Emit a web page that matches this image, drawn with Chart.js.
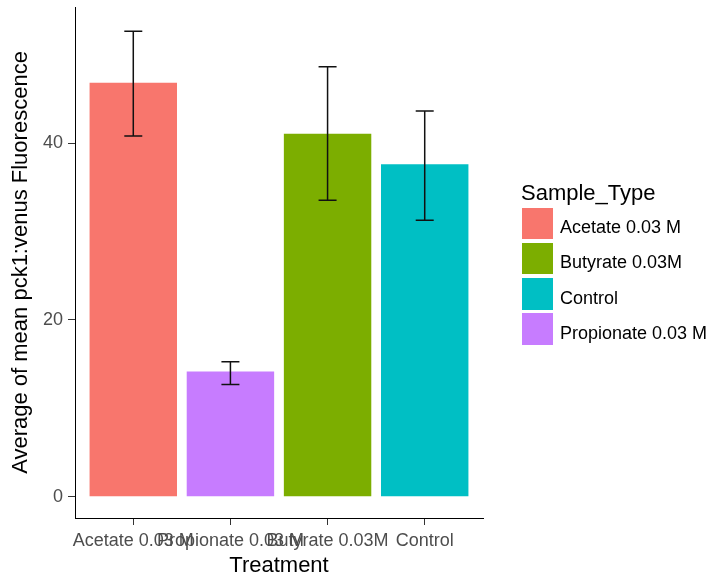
<!DOCTYPE html>
<html>
<head>
<meta charset="utf-8">
<script src="https://cdn.jsdelivr.net/npm/chart.js@4/dist/chart.umd.min.js"></script>
<style>
  html, body { margin: 0; padding: 0; background: #ffffff; }
  #wrap { position: relative; width: 715px; height: 583px; overflow: hidden; font-family: 'Liberation Sans', Arial, sans-serif; }
  #c { position: absolute; left: 0; top: 0; width: 715px; height: 583px; }
  #legend { position: absolute; left: 0; top: 0; width: 715px; height: 583px; pointer-events: none; }
  .lg-title { position: absolute; left: 521px; top: 182px; font-size: 22px; line-height: 22px; color: #000; white-space: nowrap; }
  .lg-key { position: absolute; left: 521.5px; width: 31.6px; height: 31.6px; }
  .lg-label { position: absolute; left: 560px; font-size: 18px; line-height: 18px; color: #000; white-space: nowrap; }
</style>
</head>
<body>
<div id="wrap">
  <canvas id="c" width="715" height="583"></canvas>
  <div id="legend"></div>
</div>
<script>
// ---- data ----
const categories = ['Acetate 0.03 M', 'Propionate 0.03 M', 'Butyrate 0.03M', 'Control'];
const meanValues = [46.84, 14.17, 41.07, 37.61];
const errLow     = [40.81, 12.70, 33.54, 31.28];
const errHigh    = [52.65, 15.26, 48.65, 43.64];
const barColors  = ['#F8766D', '#C77CFF', '#7CAE00', '#00BFC4'];
const legendTitle  = 'Sample_Type';
const legendLabels = ['Acetate 0.03 M', 'Butyrate 0.03M', 'Control', 'Propionate 0.03 M'];
const legendColors = ['#F8766D', '#7CAE00', '#00BFC4', '#C77CFF'];
const yTicks = [0, 20, 40];
const xTitle = 'Treatment';
const yTitle = 'Average of mean pck1:venus Fluorescence';

const FONT = "'Liberation Sans', Arial, sans-serif";

const errorBarPlugin = {
  id: 'errorBars',
  afterDatasetsDraw(chart) {
    const ctx = chart.ctx;
    const xs = chart.scales.x, ys = chart.scales.y;
    ctx.save();
    ctx.strokeStyle = '#111111';
    ctx.lineWidth = 1.5;
    meanValues.forEach((v, i) => {
      const x = xs.getPixelForValue(i + 1);
      const yH = ys.getPixelForValue(errHigh[i]);
      const yL = ys.getPixelForValue(errLow[i]);
      const half = 9;
      ctx.beginPath();
      ctx.moveTo(x, yH); ctx.lineTo(x, yL);
      ctx.moveTo(x - half, yH); ctx.lineTo(x + half, yH);
      ctx.moveTo(x - half, yL); ctx.lineTo(x + half, yL);
      ctx.stroke();
    });
    ctx.restore();
  }
};

new Chart(document.getElementById('c'), {
  type: 'bar',
  data: {
    datasets: [{
      data: meanValues.map((v, i) => ({ x: i + 1, y: v })),
      backgroundColor: barColors,
      borderWidth: 0,
      barPercentage: 0.9,
      categoryPercentage: 1.0
    }]
  },
  options: {
    responsive: false,
    animation: false,
    events: [],
    layout: { padding: { left: 0, right: 232, top: 7, bottom: 0 } },
    plugins: { legend: { display: false }, tooltip: { enabled: false } },
    scales: {
      x: {
        type: 'linear',
        min: 0.4,
        max: 4.6,
        offset: false,
        afterBuildTicks(scale) { scale.ticks = categories.map((c, i) => ({ value: i + 1 })); },
        afterFit(scale) { scale.height = 65; scale.paddingLeft = 0; scale.paddingRight = 0; },
        ticks: {
          autoSkip: false, maxRotation: 0, minRotation: 0,
          padding: 5,
          color: '#4D4D4D',
          font: { family: FONT, size: 18 },
          callback: (v) => categories[Math.round(v) - 1]
        },
        grid: { display: true, drawOnChartArea: false, drawTicks: true, tickLength: 7, color: '#333333', lineWidth: 1, offset: false },
        border: { display: true, color: '#000000', width: 1 },
        title: { display: true, text: xTitle, color: '#000000', font: { family: FONT, size: 22 }, padding: { top: 0, bottom: 3.5 } }
      },
      y: {
        type: 'linear',
        min: -2.41,
        max: 55.4,
        afterBuildTicks(scale) { scale.ticks = yTicks.map(v => ({ value: v })); },
        afterFit(scale) { scale.width = 75; scale.paddingTop = 0; scale.paddingBottom = 0; },
        ticks: {
          padding: 5,
          color: '#4D4D4D',
          font: { family: FONT, size: 18 },
          callback: (v) => String(v)
        },
        grid: { display: true, drawOnChartArea: false, drawTicks: true, tickLength: 7, color: '#333333', lineWidth: 1 },
        border: { display: true, color: '#000000', width: 1 },
        title: { display: true, text: yTitle, color: '#000000', font: { family: FONT, size: 22 }, padding: { top: 7.4, bottom: 0 } }
      }
    }
  },
  plugins: [errorBarPlugin]
});

// ---- legend (HTML, built from the legend arrays) ----
const lg = document.getElementById('legend');
const t = document.createElement('div');
t.className = 'lg-title';
t.textContent = legendTitle;
lg.appendChild(t);
legendLabels.forEach((lab, i) => {
  const top = 207.7 + i * 35.2;
  const k = document.createElement('div');
  k.className = 'lg-key';
  k.style.top = top + 'px';
  k.style.background = legendColors[i];
  lg.appendChild(k);
  const l = document.createElement('div');
  l.className = 'lg-label';
  l.style.top = (top + 10.4) + 'px';
  l.textContent = lab;
  lg.appendChild(l);
});
</script>
</body>
</html>
